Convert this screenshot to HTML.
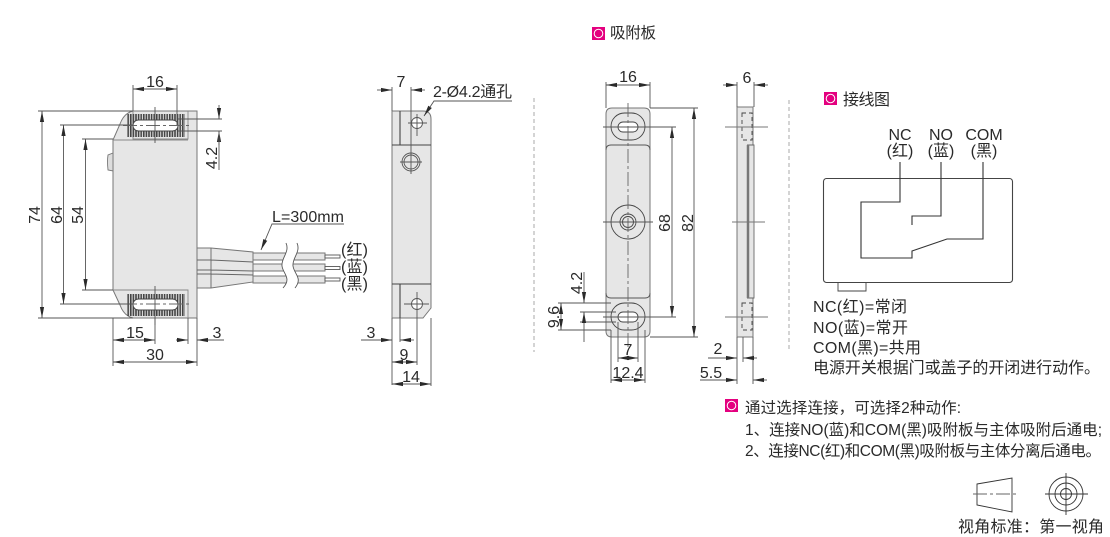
<!DOCTYPE html>
<html><head><meta charset="utf-8">
<style>
html,body{margin:0;padding:0;background:#fff}
svg{display:block}
text{font-family:"Liberation Sans","Noto Sans CJK SC",sans-serif;fill:#2a2a2a;font-size:16px}
.n{font-size:15.5px}
.m{text-anchor:middle}
.d{stroke:#555;stroke-width:.9;fill:none}
.o{stroke:#777;stroke-width:1;fill:#e6e6e6}
.c{stroke:#666;stroke-width:.9;fill:none;stroke-dasharray:14 3 3 3}
.s{stroke:#aaa;stroke-width:1;fill:none;stroke-dasharray:4 3}
</style></head><body>
<svg width="1110" height="537" viewBox="0 0 1110 537" xmlns="http://www.w3.org/2000/svg">
<defs>
<marker id="a" markerUnits="userSpaceOnUse" markerWidth="12" markerHeight="6" refX="11" refY="3" orient="auto-start-reverse"><path d="M0,.9L11,3L0,5.100Z" fill="#2a2a2a"/></marker>
<pattern id="h" width="2.6" height="4" patternUnits="userSpaceOnUse"><rect width="1.600" height="4" fill="#444"/></pattern>
</defs>
<g class="d">
<!-- view 1 -->
<path class="o" d="M113,140L120,124Q124,113 133,111H197V318H133Q124,316 120,305L113,290Z"/>
<path d="M108,170Q107,161 108,155L113,153V171Z" fill="#ddd" stroke="#777"/>
<path d="M133,111V139H188V111M113,140H188M113,290H188V318" stroke="#888"/>
<rect x="127" y="114" width="58" height="23" fill="url(#h)" stroke="none"/>
<rect x="127" y="294" width="58" height="22" fill="url(#h)" stroke="none"/>
<rect x="133" y="120" width="45" height="11" rx="5.500" fill="#fff" stroke="#444"/>
<rect x="133" y="299" width="45" height="11" rx="5.500" fill="#fff" stroke="#444"/>
<path class="c" d="M123,125.500H190M123,304H190"/>
<path d="M155,107V143M155,286V325"/>
<path d="M133,85V111M177,85V125"/>
<path d="M133,89H177" marker-start="url(#a)" marker-end="url(#a)"/>
<path d="M38,111H133M38,318H133M60,125H133M60,304H133M82,139H113M82,290H113"/>
<path d="M42,111V318" marker-start="url(#a)" marker-end="url(#a)"/>
<path d="M63.500,125V304" marker-start="url(#a)" marker-end="url(#a)"/>
<path d="M85.500,139V290" marker-start="url(#a)" marker-end="url(#a)"/>
<path d="M178,119H222M178,131H222"/>
<path d="M219,105V119" marker-end="url(#a)"/>
<path d="M219,145V131" marker-end="url(#a)"/>
<path d="M219,131V170"/>
<path d="M113,318V366M155,318V344M188,318V344M197,318V366"/>
<path d="M113,340H155" marker-start="url(#a)" marker-end="url(#a)"/>
<path d="M176,340H188" marker-end="url(#a)"/>
<path d="M224,340H197" marker-end="url(#a)"/>
<path d="M113,362H197" marker-start="url(#a)" marker-end="url(#a)"/>
<!-- cable -->
<path class="o" d="M197,248H211L253,252V282L211,288H197Z"/>
<path d="M211,248V288M197,260H211L253,262M197,270H211L253,271M197,274H211L253,275" stroke="#666"/>
<rect class="o" x="253" y="253" width="72" height="7"/>
<rect class="o" x="253" y="264" width="72" height="7"/>
<rect class="o" x="253" y="276" width="72" height="7"/>
<rect x="325" y="255" width="15" height="3" fill="#fff" stroke="#555"/>
<rect x="325" y="266.500" width="15" height="3" fill="#fff" stroke="#555"/>
<rect x="325" y="278" width="15" height="3" fill="#fff" stroke="#555"/>
<path d="M286,243C290,252 281,258 282,266C283,274 292,278 283,288L295,288C303,278 294,274 293,266C292,258 301,252 297,243Z" fill="#fff" stroke="none"/>
<path d="M286,243C290,252 281,258 282,266C283,274 292,278 283,288M297,243C301,252 292,258 293,266C294,274 303,278 295,288" stroke="#555"/>
<path d="M344,224H272L261,250" marker-end="url(#a)"/>
<!-- view 2 -->
<path class="o" d="M392,111H423Q431,111 431,119V308L423,318H392Z"/>
<path d="M400,111V145M392,145H431M392,284H431M400,284V318" stroke="#444" stroke-width="1.100"/>
<circle cx="417" cy="123" r="5.500" fill="#fff" stroke="#555"/>
<circle cx="417" cy="304" r="5.500" fill="#fff" stroke="#555"/>
<circle cx="411" cy="162" r="9" stroke="#555"/><circle cx="411" cy="162" r="7" stroke="#555"/>
<path d="M408,123H427M417,114V136M400,162H422M411,87V174M404,304H429M417,292V365"/>
<path d="M392,87V111M392,318V385M400,318V342M431,318V386"/>
<path d="M377,90H392" marker-end="url(#a)"/>
<path d="M425,90H411" marker-end="url(#a)"/>
<path d="M512,101H434L424,116" marker-end="url(#a)"/>
<path d="M361,340H392" marker-end="url(#a)"/>
<path d="M414,340H400" marker-end="url(#a)"/>
<path d="M392,362H417" marker-start="url(#a)" marker-end="url(#a)"/>
<path d="M392,384H431" marker-start="url(#a)" marker-end="url(#a)"/>
<!-- separators -->
<path class="s" d="M534,98V352M789,100V352"/>
<!-- view 3 -->
<path class="o" d="M612,108H644Q650,108 650,114V331Q650,337 644,337H612Q606,337 606,331V114Q606,108 612,108Z"/>
<path d="M606,150Q606,145 611,145H645Q650,145 650,150M606,293Q606,298 611,298H645Q650,298 650,293" stroke="#555"/>
<rect x="611" y="113" width="34" height="27" rx="13.500" stroke="#444"/>
<rect x="611" y="303" width="34" height="27" rx="13.500" stroke="#444"/>
<rect x="618" y="122" width="20" height="10" rx="5" fill="#fff" stroke="#444"/>
<rect x="618" y="312" width="20" height="10" rx="5" fill="#fff" stroke="#444"/>
<circle cx="628" cy="222" r="17" stroke="#444"/><circle cx="628" cy="222" r="8" stroke="#444"/><circle cx="628" cy="222" r="5.500" stroke="#444"/>
<path class="c" d="M628,103V350"/>
<path d="M603,127H676M603,317H676M603,222H653"/>
<path d="M606,82V108M650,82V108"/>
<path d="M606,85H650" marker-start="url(#a)" marker-end="url(#a)"/>
<path d="M650,108H698M650,337H698"/>
<path d="M672,127V317" marker-start="url(#a)" marker-end="url(#a)"/>
<path d="M694,108V337" marker-start="url(#a)" marker-end="url(#a)"/>
<path d="M558,303H611M558,330H611M580,312H616M580,322H616"/>
<path d="M584,272V303" marker-end="url(#a)"/>
<path d="M584,342V312" marker-end="url(#a)"/>
<path d="M561,303V330" marker-start="url(#a)" marker-end="url(#a)"/>
<path d="M618,322V362M638,322V362M611,330V383M645,330V383"/>
<path d="M618,358H638" marker-start="url(#a)" marker-end="url(#a)"/>
<path d="M611,380H645" marker-start="url(#a)" marker-end="url(#a)"/>
<!-- view 4 -->
<path class="o" d="M737,107H753V145H754V298H753V337H737Z"/>
<path d="M747,145H754M747,298H754" stroke="#666"/>
<path d="M748,145V298" stroke="#777" stroke-width="2.500"/>
<path d="M742,113H752V140H742Z" stroke="#444" stroke-dasharray="4 3"/>
<path d="M742,303H752V330H742Z" stroke="#444" stroke-dasharray="4 3"/>
<path d="M725,127H768M732,222H765M725,317H768" stroke="#777"/>
<path d="M737,82V107M754,82V107"/>
<path d="M723,85H737" marker-end="url(#a)"/>
<path d="M768,85H754" marker-end="url(#a)"/>
<path d="M737,337V384M743,337V362M753,337V384"/>
<path d="M708,358H737" marker-end="url(#a)"/>
<path d="M757,358H743" marker-end="url(#a)"/>
<path d="M700,380H737" marker-end="url(#a)"/>
<path d="M767,380H753" marker-end="url(#a)"/>
<!-- wiring -->
<rect x="823.500" y="178.500" width="189" height="104" rx="3" stroke="#444" stroke-width="1.100"/>
<path d="M838,282V291H866V282" stroke="#444"/>
<path d="M900,162V202H861V258H912V251L947,239H983V162M941,162V216H912V225" stroke="#333" stroke-width="1.100"/>
<!-- view symbol -->
<path d="M977,484L1012,478V512L977,505Z" stroke="#333"/>
<path class="c" d="M973,494H1016"/>
<circle cx="1066" cy="494" r="17" stroke="#333"/><circle cx="1066" cy="494" r="11" stroke="#333"/><circle cx="1066" cy="494" r="5.500" stroke="#333"/>
<path d="M1045,494H1088M1066,473V515" stroke="#333"/>
</g>
<!-- legends -->
<g>
<rect x="592" y="27" width="13" height="13" fill="#e4007f"/><circle cx="598.500" cy="33.500" r="4.300" fill="none" stroke="#fff"/>
<rect x="824" y="92" width="13" height="13" fill="#e4007f"/><circle cx="830.500" cy="98.500" r="4.300" fill="none" stroke="#fff"/>
<rect x="725" y="399" width="13" height="13" fill="#e4007f"/><circle cx="731.500" cy="405.500" r="4.300" fill="none" stroke="#fff"/>
</g>
<!-- dimension labels -->
<text class="m" x="155" y="87">16</text>
<text class="m" transform="translate(40,215) rotate(-90)">74</text>
<text class="m" transform="translate(62,215) rotate(-90)">64</text>
<text class="m" transform="translate(83,215) rotate(-90)">54</text>
<text class="m" transform="translate(217,158) rotate(-90)">4.2</text>
<text class="m" x="135" y="338">15</text>
<text class="m" x="155" y="360">30</text>
<text class="m" x="217" y="338">3</text>
<text x="272" y="222" textLength="72">L=300mm</text>
<text x="341" y="255" textLength="27">(红)</text>
<text x="341" y="272" textLength="27">(蓝)</text>
<text x="341" y="289" textLength="27">(黑)</text>
<text class="m" x="401" y="87">7</text>
<text x="433" y="97" textLength="79">2-Ø4.2通孔</text>
<text class="m" x="371" y="338">3</text>
<text class="m" x="404" y="360">9</text>
<text class="m" x="411" y="382">14</text>
<text x="610" y="38" class="n" textLength="46">吸附板</text>
<text class="m" x="628" y="82">16</text>
<text class="m" transform="translate(670,223) rotate(-90)">68</text>
<text class="m" transform="translate(693,223) rotate(-90)">82</text>
<text class="m" transform="translate(582,283) rotate(-90)">4.2</text>
<text class="m" transform="translate(559,317) rotate(-90)">9.6</text>
<text class="m" x="628" y="355">7</text>
<text class="m" x="628" y="378">12.4</text>
<text class="m" x="747" y="83">6</text>
<text class="m" x="718" y="354">2</text>
<text class="m" x="711" y="378">5.5</text>
<text x="843" y="105" textLength="47">接线图</text>
<text class="m" x="900" y="140">NC</text>
<text class="m" x="941" y="140">NO</text>
<text class="m" x="984" y="140">COM</text>
<text class="m" x="900" y="156">(红)</text>
<text class="m" x="941" y="156">(蓝)</text>
<text class="m" x="984" y="156">(黑)</text>
<text x="813" y="312" textLength="94">NC(红)=常闭</text>
<text x="813" y="333" textLength="95">NO(蓝)=常开</text>
<text x="813" y="353" textLength="108">COM(黑)=共用</text>
<text x="813" y="373" textLength="287">电源开关根据门或盖子的开闭进行动作。</text>
<text x="745" y="413" class="n" textLength="216">通过选择连接，可选择2种动作:</text>
<text x="745" y="435" class="n" textLength="357">1、连接NO(蓝)和COM(黑)吸附板与主体吸附后通电;</text>
<text x="745" y="456" class="n" textLength="356">2、连接NC(红)和COM(黑)吸附板与主体分离后通电。</text>
<text x="958" y="532" textLength="146">视角标准：第一视角</text>
</svg>
</body></html>
